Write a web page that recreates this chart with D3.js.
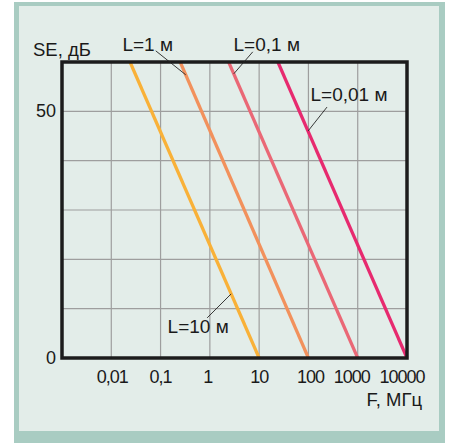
<!DOCTYPE html>
<html>
<head>
<meta charset="utf-8">
<script src="https://cdn.jsdelivr.net/npm/d3@7"></script>
<style>
  body { margin: 0; background: #fff; }
  svg text { font-family: "Liberation Sans", Arial, sans-serif; fill: #1a1a1a; }
</style>
</head>
<body>
<div id="chart"></div>
<script>
// Frequency ticks (MHz) and their labels.
const freqTicks = [0.01, 0.1, 1, 10, 100, 1000, 10000];
const freqLabels = ["0,01", "0,1", "1", "10", "100", "1000", "10000"];

// SE ticks (dB).
const seGrid = [10, 20, 30, 40, 50];
const seTicks = [0, 50];

// One line per cable length: [F, SE] at top (60 dB) and bottom (0 dB).
const seriesNames = ["L=10 м", "L=1 м", "L=0,1 м", "L=0,01 м"];
const seriesTop = [0.024, 0.25, 2.4, 24];
const seriesBottom = [10, 100, 1000, 10000];
const seriesColors = ["#f9b138", "#f2915c", "#ea6876", "#e72a6f"];

// Labels: where the leader touches the line (SE), then offsets.
const labelAnchorSE = [13.0, 57.4, 57.6, 46.0];

const W = 451, H = 443;
const Margin = { top: 62, right: 44, bottom: 85, left: 62 };

const svg = d3.select("#chart")
  .append("svg")
    .attr("width", W)
    .attr("height", H);

// Teal frame and light panel.
svg.append("rect")
  .attr("x", 14).attr("y", 2)
  .attr("width", 431).attr("height", 441)
  .attr("fill", "#a9ccc2");
svg.append("rect")
  .attr("x", 19).attr("y", 6)
  .attr("width", 420).attr("height", 425)
  .attr("fill", "#e3ede9");

const x = d3.scaleLog()
  .domain([0.001, 10000])
  .range([Margin.left, W - Margin.right]);

const y = d3.scaleLinear()
  .domain([0, 60])
  .range([H - Margin.bottom, Margin.top]);

// Grid.
svg.append("g")
  .selectAll("line")
  .data(freqTicks.slice(0, -1))
  .join("line")
    .attr("x1", d => x(d)).attr("x2", d => x(d))
    .attr("y1", y(0)).attr("y2", y(60))
    .attr("stroke", "#9e9e9e")
    .attr("stroke-width", 1.2);

svg.append("g")
  .selectAll("line")
  .data(seGrid)
  .join("line")
    .attr("x1", x(0.001)).attr("x2", x(10000))
    .attr("y1", d => y(d)).attr("y2", d => y(d))
    .attr("stroke", "#9e9e9e")
    .attr("stroke-width", 1.2);

// Series lines.
const line = d3.line()
  .x(d => x(d[0]))
  .y(d => y(d[1]));

const series = seriesNames.map((name, i) => ({
  name: name,
  color: seriesColors[i],
  points: [[seriesTop[i], 60], [seriesBottom[i], 0]]
}));

svg.append("g")
  .selectAll("path")
  .data(series)
  .join("path")
    .attr("d", d => line(d.points))
    .attr("fill", "none")
    .attr("stroke", d => d.color)
    .attr("stroke-width", 3.2);

// Plot frame.
svg.append("rect")
  .attr("x", x(0.001)).attr("y", y(60))
  .attr("width", x(10000) - x(0.001))
  .attr("height", y(0) - y(60))
  .attr("fill", "none")
  .attr("stroke", "#1c1c1c")
  .attr("stroke-width", 3.5);

// Series labels with leader lines.
const labelOffsets = [
  { lx: -24, ly: 24, tx: -33, ty: 39 },
  { lx: -30, ly: -24, tx: -38, ty: -24 },
  { lx: 19, ly: -22, tx: 33, ty: -23 },
  { lx: 19, ly: -24, tx: 41, ty: -30 }
];

const pointOnLine = (i, se) => {
  const a = Math.log10(seriesTop[i]), b = Math.log10(seriesBottom[i]);
  const f = Math.pow(10, a + (b - a) * (60 - se) / 60);
  return [x(f), y(se)];
};

series.forEach((s, i) => {
  const p = pointOnLine(i, labelAnchorSE[i]);
  const o = labelOffsets[i];
  svg.append("line")
    .attr("x1", p[0]).attr("y1", p[1])
    .attr("x2", p[0] + o.lx).attr("y2", p[1] + o.ly)
    .attr("stroke", "#222")
    .attr("stroke-width", 0.9);
  svg.append("text")
    .attr("x", p[0] + o.tx)
    .attr("y", p[1] + o.ty)
    .attr("text-anchor", "middle")
    .style("font-size", "19px")
    .text(s.name);
});

// Axis tick labels.
const xTickShift = [1, 0, -2, 0, 2, -6, -5];
svg.append("g")
  .selectAll("text")
  .data(freqTicks)
  .join("text")
    .attr("x", (d, i) => x(d) + xTickShift[i])
    .attr("y", y(0) + 25)
    .attr("text-anchor", "middle")
    .style("font-size", "18px")
    .style("letter-spacing", "-1px")
    .text((d, i) => freqLabels[i]);

svg.append("g")
  .selectAll("text")
  .data(seTicks)
  .join("text")
    .attr("x", x(0.001) - 6)
    .attr("y", d => y(d) + 6)
    .attr("text-anchor", "end")
    .style("font-size", "18px")
    .text(d => d);

// Axis titles.
svg.append("text")
  .attr("x", 33)
  .attr("y", 56)
  .style("font-size", "18.5px")
  .text("SE, дБ");

svg.append("text")
  .attr("x", 422)
  .attr("y", 406)
  .attr("text-anchor", "end")
  .style("font-size", "18.5px")
  .text("F, МГц");
</script>
</body>
</html>
